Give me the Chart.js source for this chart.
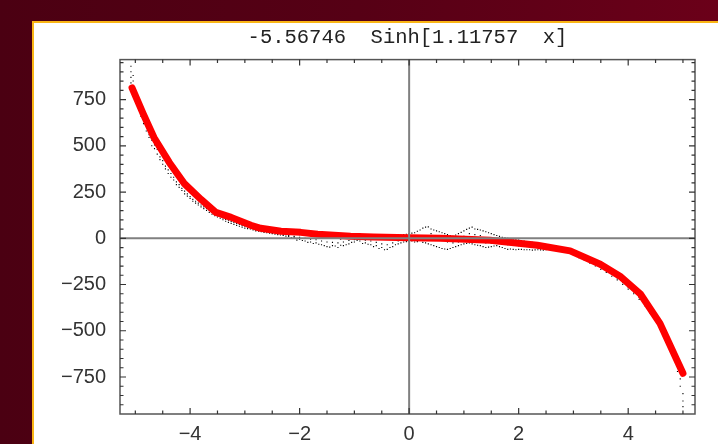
<!DOCTYPE html>
<html>
<head>
<meta charset="utf-8">
<script src="https://cdn.jsdelivr.net/npm/chart.js@4.4.1/dist/chart.umd.min.js"></script>
<style>
  html, body { margin:0; padding:0; width:718px; height:444px; overflow:hidden; }
  body { background: linear-gradient(to right, #4b0012 0%, #560015 50%, #6b0019 100%); position:relative; }
  #panel { position:absolute; left:32px; top:21px; width:720px; height:460px; border:2px solid #f9b515; background:#ffffff; }
  #c { position:absolute; left:0; top:0; }
</style>
</head>
<body>
<div id="panel"><canvas id="c" width="684" height="421"></canvas></div>
<script>
// Title
const titleText = "-5.56746  Sinh[1.11757  x]";

// Fitted curve (red polyline)
const redX = [-5.06,-4.86,-4.66,-4.38,-4.11,-3.80,-3.53,-3.25,-2.89,-2.71,-2.34,-1.98,-1.67,-1.07,-0.65,0,0.57,1.48,2.34,2.94,3.49,3.85,4.22,4.58,5.0];
const redY = [813,675,545,410,297,210,140,113,70,54,38,32,22,11,7,3,0,-11,-38,-68,-140,-205,-300,-460,-730];

// Data points (small black dots)
const dotX = [-5.08,-5.08,-5.08,-5.08,-5.04,-5.04,-5.0,-5.0,-4.95,-4.95,-4.9,-4.9,-4.85,-4.85,-4.8,-4.8,-4.75,-4.75,-4.7,-4.7,-4.65,-4.65,-4.6,-4.6,-4.55,-4.55,-4.5,-4.5,-4.45,-4.45,-4.4,-4.4,-4.35,-4.35,-4.3,-4.3,-4.25,-4.25,-4.2,-4.2,-4.15,-4.15,-4.1,-4.1,-4.05,-4.05,-4.0,-4.0,-3.95,-3.95,-3.9,-3.9,-3.85,-3.85,-3.8,-3.8,-3.75,-3.75,-3.7,-3.7,-3.65,-3.65,-3.6,-3.6,-3.55,-3.55,-3.5,-3.5,-3.45,-3.45,-3.4,-3.4,-3.35,-3.35,-3.3,-3.3,-3.25,-3.25,-3.2,-3.2,-3.15,-3.15,-3.1,-3.1,-3.05,-3.05,-3.0,-3.0,-2.95,-2.95,-2.9,-2.9,
  -2.85,-2.85,-2.8,-2.8,-2.75,-2.75,-2.7,-2.7,-2.65,-2.65,-2.6,-2.6,-2.55,-2.55,-2.5,-2.5,-2.45,-2.45,-2.4,-2.4,-2.35,-2.35,-2.3,-2.3,-2.25,-2.25,-2.2,-2.2,-2.15,-2.15,-2.1,-2.1,-2.05,-2.05,-2.0,-2.0,-1.95,-1.95,-1.9,-1.9,-1.85,-1.85,-1.8,-1.8,-1.75,-1.75,-1.7,-1.7,-1.65,-1.65,-1.6,-1.6,-1.55,-1.55,-1.5,-1.5,-1.45,-1.45,-1.4,-1.4,-1.35,-1.35,-1.3,-1.3,-1.25,-1.25,-1.2,-1.2,-1.15,-1.15,-1.1,-1.1,-1.05,-1.05,-1.0,-1.0,-0.95,-0.95,-0.9,-0.9,-0.85,-0.85,-0.8,-0.8,-0.75,-0.75,-0.7,-0.7,-0.65,-0.65,-0.6,-0.6,-0.55,-0.55,-0.5,-0.5,-0.45,-0.45,-0.4,-0.4,-0.35,-0.35,-0.3,-0.3,-0.25,-0.25,-0.2,-0.2,-0.15,-0.15,-0.1,-0.1,-0.05,-0.05,
  0.0,0.0,0.05,0.05,0.1,0.1,0.15,0.15,0.2,0.2,0.25,0.25,0.3,0.3,0.35,0.35,0.4,0.4,0.45,0.45,0.5,0.5,0.55,0.55,0.6,0.6,0.65,0.65,0.7,0.7,0.75,0.75,0.8,0.8,0.85,0.85,0.9,0.9,0.95,0.95,1.0,1.0,1.05,1.05,1.1,1.1,1.15,1.15,1.2,1.2,1.25,1.25,1.3,1.3,1.35,1.35,1.4,1.4,1.45,1.45,1.5,1.5,1.55,1.55,1.6,1.6,1.65,1.65,1.7,1.7,1.75,1.75,1.8,1.8,1.85,1.85,1.9,1.9,1.95,1.95,2.0,2.0,2.05,2.05,2.1,2.1,2.15,2.15,2.2,2.2,2.25,2.25,2.3,2.3,2.35,2.35,2.4,2.4,2.45,2.45,2.5,2.5,2.55,2.55,2.6,2.6,2.65,2.65,2.7,2.7,2.75,2.75,2.8,2.8,2.85,2.85,2.9,2.9,2.95,2.95,
  3.0,3.0,3.1,3.1,3.2,3.2,3.3,3.3,3.4,3.4,3.5,3.5,3.6,3.6,3.7,3.7,3.8,3.8,3.9,3.9,4.0,4.0,4.1,4.1,4.2,4.2,4.3,4.3,4.4,4.4,4.5,4.5,4.6,4.6,4.7,4.7,4.8,4.8,4.85,4.85,4.9,4.9,4.95,4.95,5.0,5.0,5.0];
const dotY = [930,900,870,840,880,850,790,760,740,720,700,660,640,620,610,580,560,545,530,500,505,485,480,455,440,425,420,400,390,375,370,350,350,330,330,315,305,290,290,275,270,258,255,240,240,228,225,215,210,200,200,190,190,180,180,170,170,160,160,150,150,140,140,130,132,122,125,115,118,108,110,100,102,92,95,85,90,80,85,75,80,70,75,65,70,60,65,55,62,52,60,50,
  52,45,55,40,48,38,50,35,42,32,45,30,38,28,40,25,36,22,35,20,32,18,30,15,28,12,30,10,26,2,25,5,22,-10,20,-5,18,-12,25,-15,20,-22,15,-20,12,-28,20,-25,15,-32,10,-35,8,-40,5,-45,2,-48,10,-40,5,-42,0,-50,-5,-38,5,-40,10,-35,15,-30,18,-22,20,-20,22,-12,25,-15,15,-28,20,-25,12,-32,15,-35,8,-45,10,-40,2,-55,5,-50,-5,-62,0,-60,5,-50,10,-45,12,-35,15,-30,18,-25,20,-20,22,-18,
  25,-15,28,-15,30,-20,38,-18,45,-10,55,-22,60,-25,62,-30,50,-35,45,-40,40,-45,35,-50,30,-55,25,-58,20,-60,15,-55,10,-50,18,-45,25,-40,32,-35,40,-30,48,-28,55,-25,60,-30,50,-35,48,-38,45,-40,40,-45,35,-50,30,-48,25,-45,20,-42,15,-40,10,-45,5,-50,2,-55,0,-60,-2,-58,-5,-60,-8,-62,-10,-60,-12,-60,-15,-62,-18,-62,-20,-62,-22,-64,-25,-63,-28,-62,-30,-63,-32,-64,-35,-62,-38,-60,-40,-60,-42,-63,-45,-65,-50,-68,-55,-70,-60,-72,-65,-75,-70,-78,
  -80,-90,-95,-105,-110,-120,-125,-135,-140,-150,-158,-168,-175,-185,-195,-205,-215,-225,-240,-250,-265,-275,-290,-300,-320,-330,-355,-365,-390,-405,-435,-450,-480,-500,-535,-555,-590,-620,-640,-660,-680,-720,-760,-800,-840,-880,-910];

// Additional data points in the central band
const dotMidX = [-2.8,-2.7,-2.6,-2.5,-2.4,-2.3,-2.2,-2.1,-2.0,-1.9,-1.8,-1.7,-1.6,-1.5,-1.4,-1.3,-1.2,-1.1,-1.0,-0.9,-0.8,-0.7,-0.6,-0.5,-0.4,-0.3,-0.2,-0.1,0.0,0.1,0.2,0.3,0.4,0.5,0.6,0.7,0.8,0.9,1.0,1.1,1.2,1.3,1.4,1.5,1.6,1.7,1.8,1.9,2.0,2.1,2.2,2.3,2.4,2.5,2.6,2.7,2.8,2.9];
const dotMidY = [45,38,35,30,25,20,15,10,5,0,-5,-8,-15,-20,-22,-25,-20,-12,-8,-5,-10,-15,-22,-30,-35,-25,-15,-8,-5,-5,5,15,25,15,-10,-20,-25,-20,10,25,20,15,-25,-28,-25,-30,-35,-38,-40,-42,-45,-48,-50,-50,-52,-55,-60,-65];

// Axis ticks
const xMajor = [-4,-2,0,2,4];
const xMinor = [-5,-4.5,-3.5,-3,-2.5,-1.5,-1,-0.5,0.5,1,1.5,2.5,3,3.5,4.5,5];
const yMajor = [-750,-500,-250,0,250,500,750];
const yMinor = [-900,-850,-800,-700,-650,-600,-550,-450,-400,-350,-300,-200,-150,-100,-50,50,100,150,200,300,350,400,450,550,600,650,700,800,850,900,950];

const fmt = v => (v < 0 ? '\u2212' + Math.abs(v) : String(v));

const framePlugin = {
  id: 'frame',
  afterDatasetsDraw(chart) {
    const ctx = chart.ctx, a = chart.chartArea;
    const xs = chart.scales.x, ys = chart.scales.y;
    ctx.save();
    // axes through zero
    ctx.strokeStyle = '#808080';
    ctx.lineWidth = 2;
    ctx.beginPath();
    const x0 = xs.getPixelForValue(0), y0 = ys.getPixelForValue(0);
    ctx.moveTo(x0, a.top); ctx.lineTo(x0, a.bottom);
    ctx.moveTo(a.left, y0); ctx.lineTo(a.right, y0);
    ctx.stroke();
    // frame
    ctx.strokeStyle = '#555';
    ctx.lineWidth = 1.5;
    ctx.strokeRect(a.left, a.top, a.right - a.left, a.bottom - a.top);
    // inward ticks
    ctx.lineWidth = 1.2;
    ctx.strokeStyle = '#333';
    ctx.beginPath();
    const tx = (v, len) => {
      const p = xs.getPixelForValue(v);
      ctx.moveTo(p, a.bottom); ctx.lineTo(p, a.bottom - len);
      ctx.moveTo(p, a.top); ctx.lineTo(p, a.top + len);
    };
    const ty = (v, len) => {
      const p = ys.getPixelForValue(v);
      ctx.moveTo(a.left, p); ctx.lineTo(a.left + len, p);
      ctx.moveTo(a.right, p); ctx.lineTo(a.right - len, p);
    };
    xMajor.forEach(v => tx(v, 6));
    xMinor.forEach(v => tx(v, 3.5));
    yMajor.forEach(v => ty(v, 6));
    yMinor.forEach(v => ty(v, 3.5));
    ctx.stroke();
    ctx.restore();
  }
};

const tickFont = { family: "'Liberation Sans', Arial, sans-serif", size: 20 };
const dotStyle = {
  showLine: false,
  pointStyle: 'rect',
  pointRadius: 0.8,
  pointBorderWidth: 0,
  backgroundColor: '#000',
  borderColor: '#000'
};

new Chart(document.getElementById('c'), {
  type: 'scatter',
  data: {
    datasets: [
      {
        label: 'fit',
        data: redX.map((x, i) => ({ x: x, y: redY[i] })),
        showLine: true,
        borderColor: '#ff0000',
        backgroundColor: '#ff0000',
        borderWidth: 7,
        borderCapStyle: 'round',
        borderJoinStyle: 'round',
        pointRadius: 0,
        tension: 0
      },
      Object.assign({ label: 'data', data: dotX.map((x, i) => ({ x: x, y: dotY[i] })) }, dotStyle),
      Object.assign({ label: 'data2', data: dotMidX.map((x, i) => ({ x: x, y: dotMidY[i] })) }, dotStyle)
    ]
  },
  options: {
    responsive: false,
    animation: false,
    events: [],
    layout: { padding: { left: 0, right: 23, top: 0, bottom: 0 } },
    plugins: {
      legend: { display: false },
      tooltip: { enabled: false },
      title: {
        display: true,
        text: titleText,
        fullSize: false,
        color: '#222',
        font: { family: "'Liberation Mono', 'Courier New', monospace", size: 20.5, weight: 'normal' },
        padding: { top: 2, bottom: 10 }
      }
    },
    scales: {
      x: {
        type: 'linear',
        position: 'bottom',
        min: -5.28,
        max: 5.22,
        grid: { display: false, drawTicks: false },
        border: { display: false },
        ticks: { color: '#333', font: tickFont, padding: 8, maxRotation: 0, callback: fmt },
        afterBuildTicks: s => { s.ticks = xMajor.map(v => ({ value: v })); },
        afterFit: s => { s.height = 30; }
      },
      y: {
        type: 'linear',
        min: -950,
        max: 966,
        grid: { display: false, drawTicks: false },
        border: { display: false },
        ticks: { color: '#333', font: tickFont, padding: 14, callback: fmt },
        afterBuildTicks: s => { s.ticks = yMajor.map(v => ({ value: v })); },
        afterFit: s => { s.width = 86; }
      }
    }
  },
  plugins: [framePlugin]
});
</script>
</body>
</html>
